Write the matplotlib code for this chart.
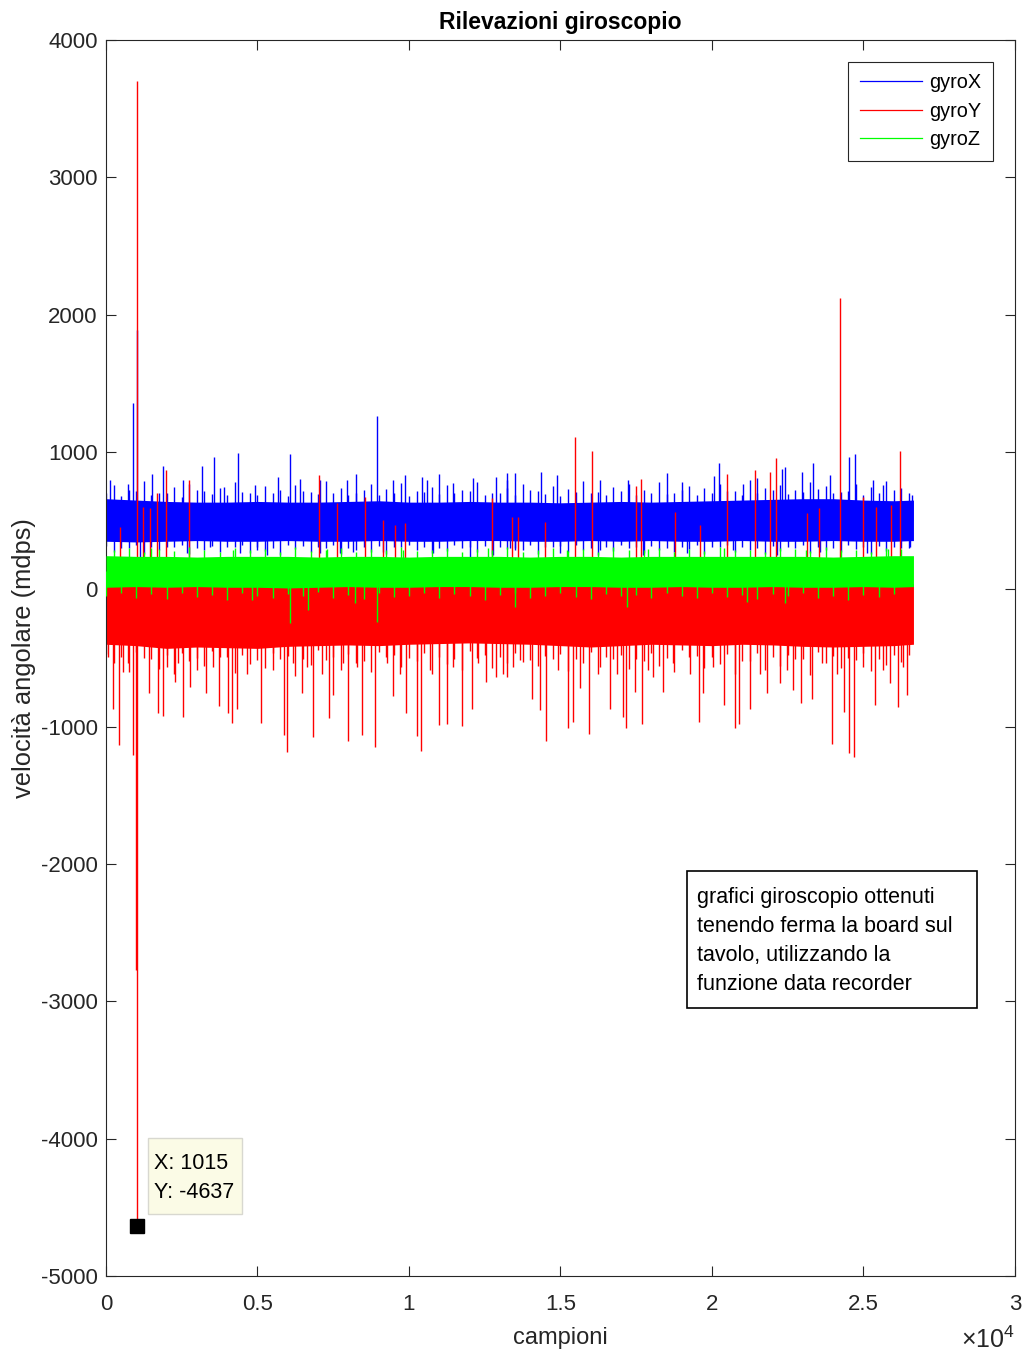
import matplotlib
matplotlib.use("Agg")
import matplotlib.pyplot as plt
from matplotlib.lines import Line2D
from matplotlib.patches import Rectangle

plt.rcParams["font.family"] = ["Liberation Sans", "DejaVu Sans"]
plt.rcParams["mathtext.fontset"] = "custom"
plt.rcParams["mathtext.rm"] = "Liberation Sans"
plt.rcParams["axes.unicode_minus"] = False

BLUE = "#0000FF"
RED = "#FF0000"
GREEN = "#00FF00"
AXC = "#262626"

# ---- dense band of each signal (read per ~1000 samples) ----
band_x = [0, 1000, 2000, 3000, 4000, 5000, 6000, 7000, 8000, 9000, 10000, 11000, 12000, 13000,
          14000, 15000, 16000, 17000, 18000, 19000, 20000, 21000, 22000, 23000, 24000, 25000, 26000, 26650]
blue_hi = [660, 650, 640, 635, 635, 640, 635, 635, 640, 645, 635, 635, 640, 635,
           635, 630, 635, 640, 635, 640, 645, 650, 655, 660, 660, 650, 645, 650]
blue_lo = [350, 345, 350, 355, 350, 350, 355, 350, 350, 355, 350, 350, 355, 355,
           350, 350, 355, 350, 355, 350, 350, 355, 350, 350, 355, 350, 350, 355]
green_hi = [245, 240, 240, 235, 240, 240, 240, 235, 240, 240, 235, 240, 240, 240,
            235, 240, 240, 235, 240, 240, 240, 240, 240, 240, 235, 240, 245, 245]
green_lo = [15, 20, 15, 20, 15, 15, 10, 15, 20, 15, 15, 20, 20, 15,
            15, 20, 20, 15, 15, 20, 15, 15, 20, 15, 15, 20, 15, 20]
red_hi = [40, 40, 40, 40, 40, 40, 40, 40, 40, 40, 40, 40, 40, 40,
          40, 40, 40, 40, 40, 40, 40, 40, 40, 40, 40, 40, 40, 40]
red_lo = [-400, -410, -430, -420, -425, -430, -415, -410, -405, -410, -400, -395, -390, -395,
          -400, -410, -420, -410, -400, -405, -410, -400, -405, -415, -420, -415, -410, -400]
blue_mid, green_mid, red_mid = 500, 130, -190

# ---- ragged edges of the bands (sample, value) ----
fringe_a_x = [250, 750, 1250, 1750, 2250, 2750, 3250, 3750, 4250, 4750, 5250, 5750, 6250, 6750,
              7250, 7750, 8250, 8750, 9250, 9750, 10250, 10750, 11250, 11750, 12250, 12750, 13250,
              13750, 14250, 14750, 15250, 15750, 16250, 16750, 17250, 17750, 18250, 18750, 19250,
              19750, 20250, 20750, 21250, 21750, 22250, 22750, 23250, 23750, 24250, 24750, 25250,
              25750, 26250]
fringe_b_x = [0, 500, 1000, 1500, 2000, 2500, 3000, 3500, 4000, 4500, 5000, 5500, 6000, 6500,
              7000, 7500, 8000, 8500, 9000, 9500, 10000, 10500, 11000, 11500, 12000, 12500, 13000,
              13500, 14000, 14500, 15000, 15500, 16000, 16500, 17000, 17500, 18000, 18500, 19000,
              19500, 20000, 20500, 21000, 21500, 22000, 22500, 23000, 23500, 24000, 24500, 25000,
              25500, 26000, 26500]
blue_top_a = [760, 720, 790, 700, 745, 770, 715, 735, 780, 705,
              750, 725, 760, 710, 790, 740, 700, 765, 730, 775,
              715, 745, 760, 720, 785, 705, 740, 770, 715, 755,
              730, 790, 710, 745, 765, 725, 780, 700, 750, 735,
              770, 715, 795, 740, 760, 725, 780, 750, 710, 770,
              745, 790, 735]
blue_top_b = [700, 680, 715, 690, 705, 675, 720, 695, 685, 710,
              690, 705, 680, 715, 695, 700, 685, 720, 690, 705,
              680, 710, 695, 700, 715, 685, 705, 690, 720, 695,
              680, 710, 700, 690, 715, 685, 705, 695, 720, 690,
              700, 715, 685, 705, 720, 695, 710, 730, 700, 715,
              690, 705, 720, 700]
blue_bot_a = [270, 300, 255, 285, 310, 260, 290, 275, 305, 265,
              280, 250, 295, 270, 300, 260, 285, 275, 255, 305,
              290, 265, 280, 300, 270, 255, 295, 285, 260, 305,
              275, 290, 250, 280, 300, 265, 285, 270, 295, 260,
              305, 275, 290, 255, 280, 300, 265, 285, 270, 295,
              260, 280, 300]
blue_bot_b = [315, 300, 320, 305, 310, 325, 300, 315, 305, 320,
              310, 300, 325, 315, 305, 320, 300, 310, 315, 305,
              320, 310, 300, 325, 305, 315, 310, 300, 320, 305,
              315, 325, 300, 310, 320, 305, 315, 300, 310, 325,
              305, 320, 310, 300, 315, 305, 325, 310, 300, 320,
              305, 315, 310, 300]
green_top_a = [285, 300, 275, 295, 280, 305, 290, 270, 300, 285,
               295, 275, 305, 280, 290, 300, 270, 295, 285, 305,
               280, 290, 300, 275, 295, 285, 305, 270, 290, 300,
               280, 295, 275, 305, 285, 290, 300, 270, 295, 280,
               305, 285, 290, 275, 300, 295, 280, 305, 285, 290,
               275, 300, 295]
green_bot_a = [-45, -25, -60, -35, -70, -30, -55, -40, -75, -25,
               -50, -65, -35, -45, -20, -60, -40, -70, -30, -55,
               -45, -25, -65, -35, -50, -75, -40, -30, -60, -45,
               -25, -55, -70, -35, -50, -40, -65, -30, -45, -60,
               -25, -55, -40, -70, -35, -50, -30, -60, -45, -75,
               -40, -55, -35]
red_bot_a = [-540, -600, -500, -580, -620, -520, -560, -490, -610, -545,
             -575, -505, -630, -550, -515, -590, -535, -605, -495, -565,
             -525, -615, -545, -585, -500, -570, -635, -530, -555, -510,
             -595, -540, -620, -505, -580, -525, -560, -600, -490, -570,
             -545, -615, -520, -590, -555, -505, -625, -540, -575, -515,
             -595, -550, -530]
red_bot_b = [-470, -495, -455, -510, -480, -465, -500, -450, -490, -475,
             -515, -460, -485, -505, -445, -495, -470, -520, -455, -480,
             -500, -465, -490, -510, -450, -475, -495, -460, -515, -485,
             -470, -505, -455, -490, -480, -510, -465, -500, -445, -485,
             -495, -470, -520, -460, -490, -475, -505, -455, -485, -500,
             -465, -510, -480, -475]

# ---- isolated peaks (sample, value) ----
blue_up_x = [902, 1015, 8932, 4367, 6072, 1892, 1507, 3575, 3179, 132, 4917, 5687, 8250, 9482,
             9867, 10417, 11000, 12122, 12870, 13244, 13497, 7942, 7062, 6402, 2552, 3894, 737,
             10582, 11462, 20241, 24718, 24531, 22408, 23321, 19000, 18503, 14345, 14895, 21033,
             21473, 22298, 25301, 25653, 16303, 17238, 20076, 22958, 23893, 13223, 26588]
blue_up_y = [1354, 1890, 1262, 990, 985, 898, 839, 961, 898, 795, 759, 815, 839, 795,
             832, 820, 839, 808, 820, 844, 849, 795, 795, 800, 795, 742, 766,
             795, 771, 917, 985, 961, 888, 917, 783, 844, 856, 832, 766,
             808, 873, 796, 759, 796, 796, 825, 856, 832, 796, 686]
blue_dn_x = [1122, 2662, 3432, 4422, 4972, 5302, 7062, 7722, 8162, 9152, 10802, 12012, 12782,
             13497, 13333, 14983, 16303, 17733, 19163, 20703, 22133, 23563, 25103, 26533]
blue_dn_y = [237, 262, 310, 262, 286, 249, 262, 262, 274, 274, 262, 237, 249,
             286, 298, 262, 286, 249, 262, 286, 249, 274, 262, 310]

red_up_x = [1015, 7040, 2728, 1969, 8547, 12749, 1694, 7612, 9152, 9867, 9537, 462, 1232, 13585,
            1452, 24223, 15478, 16050, 22111, 26203, 21418, 20505, 21913, 17656, 17491, 18778,
            13410, 23541, 24993, 25411, 25906, 23123, 19603, 14499]
red_up_y = [3700, 832, 795, 868, 669, 662, 698, 626, 504, 480, 468, 456, 601, 529,
            589, 2120, 1110, 1007, 953, 1010, 868, 837, 856, 800, 752, 565,
            529, 589, 674, 601, 613, 553, 468, 492]
red_dn_x = [1015, 1000, 902, 440, 242, 572, 1430, 1727, 1870, 2530, 3300, 3729, 4037, 4169, 4312,
            5115, 5962, 5874, 6457, 6842, 7370, 7997, 8437, 8877, 9482, 9900, 10252, 10395,
            11000, 11264, 11737, 12067, 12540, 12870, 13442, 7502, 2772, 2277,
            14521, 14070, 14323, 15258, 15401, 15940, 15643, 16633, 17161, 17073, 17458, 17678,
            18063, 18393, 19273, 19581, 19713, 20395, 20758, 20879, 21253, 21803, 22243, 22683,
            22925, 23310, 23970, 24366, 24509, 24685, 25378, 25873, 26126, 26423,
            77, 737, 2002, 2387, 2992, 3542, 4642, 5522, 6182, 6622, 7117, 7832, 8272, 9262,
            9702, 10692, 11462, 12287, 13112, 13223, 13663, 14928, 16303, 16853, 17898, 18723,
            20043, 21583, 22463, 23618, 24113, 24993, 25653, 26313]
red_dn_y = [-4637, -2770, -1208, -1135, -868, -600, -758, -899, -923, -928, -753, -851, -904, -972, -868,
            -972, -1183, -1062, -758, -1074, -940, -1103, -1062, -1147, -778, -904, -1069, -1176,
            -989, -977, -993, -868, -673, -637, -564, -770, -710, -673,
            -1106, -795, -880, -1013, -965, -1050, -722, -868, -1013, -928, -746, -977,
            -637, -746, -613, -965, -758, -843, -1013, -977, -868, -758, -685, -734,
            -831, -795, -1123, -892, -1195, -1220, -843, -685, -855, -770,
            -491, -540, -564, -540, -588, -564, -613, -588, -540, -564, -613, -540, -564, -540,
            -613, -588, -564, -540, -613, -540, -516, -588, -564, -613, -588, -540,
            -564, -613, -588, -540, -613, -564, -588, -564]

green_up_x = [1500, 4200, 7300, 9800, 12600, 15200, 17900, 20400, 23100, 25800]
green_up_y = [300, 290, 295, 285, 300, 290, 295, 300, 290, 295]
green_dn_x = [6072, 6677, 8932, 8217, 4807, 17183, 22408, 13498, 21143]
green_dn_y = [-248, -151, -236, -103, -78, -127, -103, -127, -90]

tip_x, tip_y = 1015, -4637

fig = plt.figure(figsize=(10.25, 13.56), dpi=100)
ax = fig.add_axes([0.1034, 0.059, 0.8868, 0.9115])

LW = 1.0
# gyroX
ax.fill_between(band_x, blue_lo, blue_hi, color=BLUE, lw=0, zorder=1)
for xs, ys in [(fringe_a_x, blue_top_a), (fringe_b_x, blue_top_b), (fringe_a_x, blue_bot_a),
               (fringe_b_x, blue_bot_b), (blue_up_x, blue_up_y), (blue_dn_x, blue_dn_y)]:
    ax.vlines(xs, blue_mid, ys, color=BLUE, lw=LW, zorder=1)
# gyroY
ax.fill_between(band_x, red_lo, red_hi, color=RED, lw=0, zorder=2)
for xs, ys in [(fringe_a_x, red_bot_a), (fringe_b_x, red_bot_b),
               (red_up_x, red_up_y), (red_dn_x, red_dn_y)]:
    ax.vlines(xs, red_mid, ys, color=RED, lw=LW, zorder=2)
# gyroZ
ax.fill_between(band_x, green_lo, green_hi, color=GREEN, lw=0, zorder=3)
for xs, ys in [(fringe_a_x, green_top_a), (fringe_b_x[:-1], green_bot_a),
               (green_up_x, green_up_y), (green_dn_x, green_dn_y)]:
    ax.vlines(xs, green_mid, ys, color=GREEN, lw=LW, zorder=3)

ax.set_xlim(0, 30000)
ax.set_ylim(-5000, 4000)
ax.set_xticks([0, 5000, 10000, 15000, 20000, 25000, 30000])
ax.set_xticklabels(["0", "0.5", "1", "1.5", "2", "2.5", "3"])
ax.set_yticks(range(-5000, 4001, 1000))
ax.tick_params(direction="in", length=7, width=0.8, top=True, right=True,
               labelsize=16, colors=AXC)
ax.tick_params(axis="x", pad=13)
ax.tick_params(axis="y", pad=6)
for s in ax.spines.values():
    s.set_color(AXC)
    s.set_linewidth(0.8)

ax.set_title("Rilevazioni giroscopio", fontsize=16.5, fontweight="bold", pad=8)
ax.set_xlabel("campioni", fontsize=17, color=AXC)
ax.xaxis.set_label_coords(0.5, -0.041)
ax.set_ylabel("velocità angolare (mdps)", fontsize=18.4, color=AXC)
ax.yaxis.set_label_coords(-0.077, 0.5)
ax.text(1.0, -0.052, r"$\times\mathregular{10^4}$", transform=ax.transAxes,
        ha="right", va="center", fontsize=18, color=AXC)

handles = [Line2D([], [], color=BLUE, lw=0.9), Line2D([], [], color=RED, lw=0.9),
           Line2D([], [], color=GREEN, lw=0.9)]
leg = ax.legend(handles, ["gyroX", "gyroY", "gyroZ"], loc="upper right", fontsize=14.3,
                fancybox=False, framealpha=1, edgecolor=AXC, borderaxespad=1.1,
                handlelength=3.1, handletextpad=0.4, labelspacing=0.48, borderpad=0.58)
leg.get_frame().set_linewidth(0.8)

# note box
ax.add_patch(Rectangle((0.639, 0.2168), 0.319, 0.1109, transform=ax.transAxes,
                       facecolor="white", edgecolor="black", lw=1.2, zorder=5))
ax.text(0.650, 0.315, "grafici giroscopio ottenuti\ntenendo ferma la board sul\n"
        "tavolo, utilizzando la\nfunzione data recorder", transform=ax.transAxes,
        ha="left", va="top", fontsize=15.5, linespacing=1.5, zorder=6)

# data tip
ax.plot([tip_x], [tip_y], marker="s", color="black", ms=10, zorder=7)
ax.add_patch(Rectangle((0.0462, 0.0502), 0.1033, 0.0615, transform=ax.transAxes,
                       facecolor="#FBFBE6", edgecolor="#D8D8D0", lw=1.0, zorder=6))
ax.text(0.053, 0.0914, "X: 1015", transform=ax.transAxes, ha="left", va="center",
        fontsize=15.5, zorder=7)
ax.text(0.053, 0.0672, "Y: -4637", transform=ax.transAxes, ha="left", va="center",
        fontsize=15.5, zorder=7)

fig.savefig("out.png", dpi=100, facecolor="white")
